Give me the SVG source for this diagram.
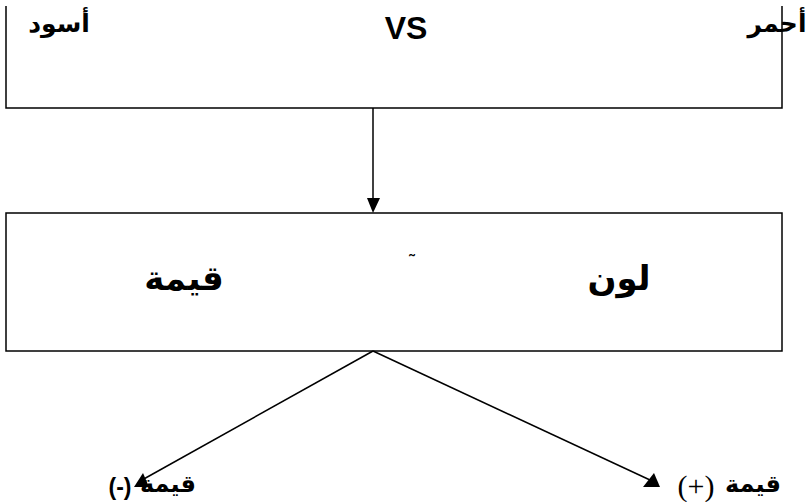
<svg xmlns="http://www.w3.org/2000/svg" width="808" height="502" viewBox="0 0 808 502">
  <style>
    .ln { stroke: #000; stroke-width: 1.5; fill: none; }
    .ar { font-family: "DejaVu Sans", "Liberation Sans", sans-serif; font-weight: bold; fill: #000; }
    .lat { font-family: "Liberation Sans", Arial, sans-serif; font-weight: bold; fill: #000; }
    .ser { font-family: "Liberation Serif", "Times New Roman", serif; fill: #000; }
    .head { fill: #000; stroke: none; }
  </style>
  <rect width="808" height="502" fill="#fff"/>

  <!-- upper bracket: black versus red -->
  <g id="compare">
    <path class="ln" d="M6 6 V108 H782 V6"/>
    <text class="ar" x="59" y="32" font-size="25" text-anchor="middle">أسود</text>
    <text class="lat" x="406" y="39" font-size="32" text-anchor="middle">VS</text>
    <text class="ar" x="777" y="32" font-size="25" text-anchor="middle">أحمر</text>
  </g>

  <!-- middle box: colour / value -->
  <g id="colour-value">
    <rect class="ln" x="6" y="213" width="776" height="138"/>
    <text class="ar" x="184" y="290" font-size="34" text-anchor="middle">قيمة</text>
    <text class="ar" x="412" y="268" font-size="18" text-anchor="middle">˜</text>
    <text class="ar" x="619" y="290" font-size="34" text-anchor="middle">لون</text>
  </g>

  <!-- lower labels -->
  <g id="value-minus">
    <text class="lat" x="120" y="495" font-size="23" text-anchor="middle">(-)</text>
    <text class="ar" x="168" y="492" font-size="24" text-anchor="middle">قيمة</text>
  </g>
  <g id="value-plus">
    <text class="ser" x="696" y="496" font-size="30" text-anchor="middle">(+)</text>
    <text class="ar" x="753" y="492" font-size="24" text-anchor="middle">قيمة</text>
  </g>

  <!-- connectors -->
  <g id="connectors">
    <line class="ln" x1="373" y1="108" x2="373" y2="199"/>
    <polygon class="head" points="367,198 380,198 373,213"/>
    <line class="ln" x1="373" y1="351" x2="142" y2="480"/>
    <polygon class="head" points="134,487 149,487 143,473"/>
    <line class="ln" x1="373" y1="351" x2="650" y2="480"/>
    <polygon class="head" points="643,487 660,487 654,473"/>
  </g>
</svg>
